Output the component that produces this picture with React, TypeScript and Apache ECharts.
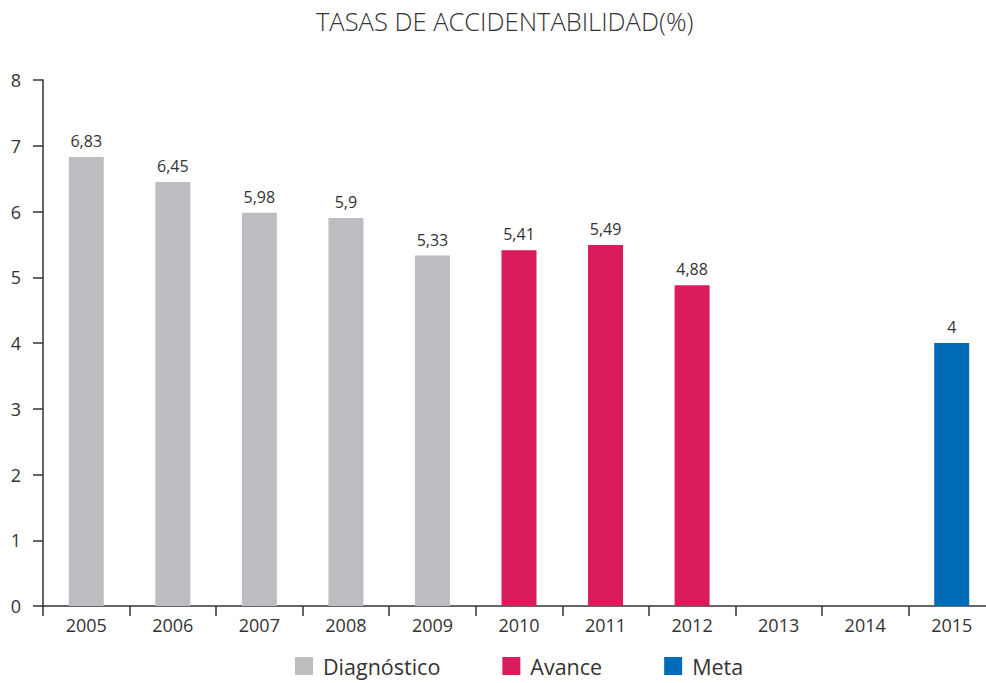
import React, { useEffect, useRef } from "react";
import * as echarts from "echarts";

const categories = ["2005", "2006", "2007", "2008", "2009", "2010", "2011", "2012", "2013", "2014", "2015"];
const diagnostico = [6.83, 6.45, 5.98, 5.9, 5.33, null, null, null, null, null, null];
const avance = [null, null, null, null, null, 5.41, 5.49, 4.88, null, null, null];
const meta = [null, null, null, null, null, null, null, null, null, null, 4];
const yTicks = [0, 1, 2, 3, 4, 5, 6, 7, 8];

const FONT = "'Open Sans', 'Noto Sans', sans-serif";
const TEXT = "#333333";

const fmt = (p: any) => String(p.value).replace(".", ",");

export default function App() {
  const ref = useRef<HTMLDivElement>(null);
  useEffect(() => {
    if (!ref.current) return;
    const chart = echarts.init(ref.current, undefined, { renderer: "svg" });
    const label = {
      show: true,
      position: "top" as const,
      distance: 8,
      color: TEXT,
      fontSize: 16,
      fontFamily: FONT,
      formatter: fmt,
    };
    const mk = (name: string, data: (number | null)[], color: string) => ({
      name,
      type: "bar" as const,
      data,
      barWidth: 35,
      barGap: "-100%",
      itemStyle: { color },
      label,
    });
    chart.setOption({
      animation: false,
      title: {
        text: "TASAS DE ACCIDENTABILIDAD(%)",
        left: 311,
        top: 3,
        textStyle: { fontFamily: FONT, fontWeight: 300, fontSize: 25.5, color: TEXT },
      },
      legend: {
        bottom: 1,
        left: 290,
        itemWidth: 18,
        itemHeight: 18,
        itemGap: 62,
        icon: "rect",
        textStyle: { fontFamily: FONT, fontSize: 21.5, color: TEXT, padding: [0, 0, 0, 5] },
        data: ["Diagnóstico", "Avance", "Meta"],
      },
      grid: { left: 43, right: 0, top: 80, bottom: 77, containLabel: false },
      xAxis: {
        type: "category",
        data: categories,
        boundaryGap: true,
        axisLine: { lineStyle: { color: TEXT, width: 1.5 } },
        axisTick: { show: true, length: 10, lineStyle: { color: TEXT, width: 1.5 } },
        axisLabel: { color: TEXT, fontSize: 18, fontFamily: FONT, margin: 10 },
      },
      yAxis: {
        type: "value",
        min: yTicks[0],
        max: yTicks[yTicks.length - 1],
        interval: 1,
        splitLine: { show: false },
        axisLine: { show: true, lineStyle: { color: TEXT, width: 1.5 } },
        axisTick: { show: true, length: 10, lineStyle: { color: TEXT, width: 1.5 } },
        axisLabel: { color: TEXT, fontSize: 18, fontFamily: FONT, margin: 22 },
      },
      series: [
        mk("Diagnóstico", diagnostico, "#BCBDC1"),
        mk("Avance", avance, "#DA1C5C"),
        mk("Meta", meta, "#006BB6"),
      ],
    });
    return () => chart.dispose();
  }, []);
  return (
    <div style={{ width: 986, height: 683, position: "absolute", left: 0, top: 0, overflow: "hidden" }}>
      <div ref={ref} style={{ width: 995, height: 683, position: "absolute", left: 0, top: 0 }} />
    </div>
  );
}
